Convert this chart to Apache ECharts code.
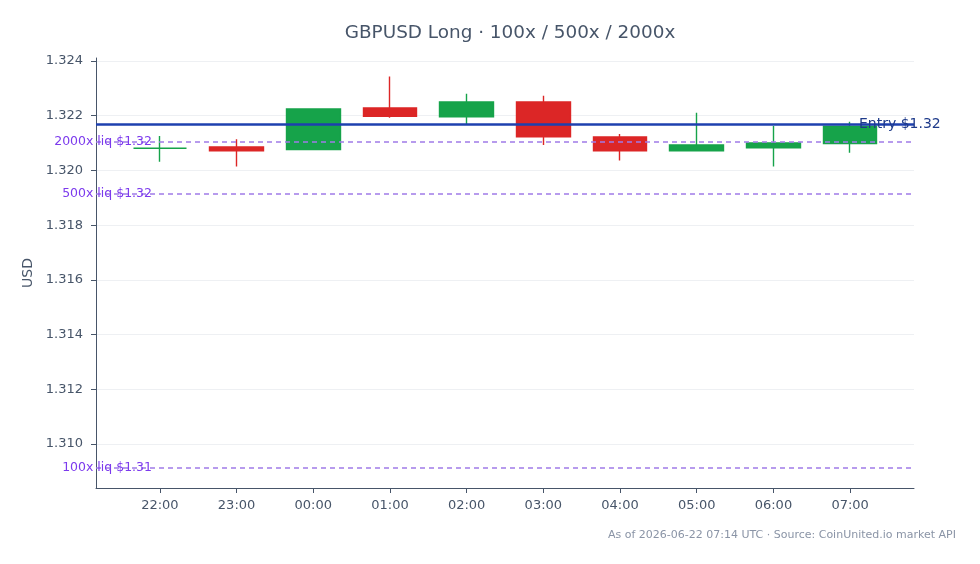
<!DOCTYPE html>
<html>
<head>
<meta charset="utf-8">
<title>GBPUSD Long</title>
<script src="https://cdn.jsdelivr.net/npm/echarts@6/dist/echarts.min.js"></script>
<style>
  html, body { margin: 0; padding: 0; background: #fff; }
  #chart { width: 980px; height: 564px; }
</style>
</head>
<body>
<div id="chart"></div>
<script>
// 小时K线 (open, close, low, high)
var hours = ['22:00', '23:00', '00:00', '01:00', '02:00', '03:00', '04:00', '05:00', '06:00', '07:00'];
var opens  = [1.32081, 1.32086, 1.32076, 1.32228, 1.32196, 1.32250, 1.32122, 1.32072, 1.32083, 1.32098];
var closes = [1.32081, 1.32072, 1.32225, 1.32198, 1.32250, 1.32123, 1.32072, 1.32093, 1.32100, 1.32162];
var lows   = [1.32032, 1.32014, 1.32076, 1.32193, 1.32170, 1.32093, 1.32036, 1.32072, 1.32014, 1.32065];
var highs  = [1.32126, 1.32114, 1.32225, 1.32343, 1.32280, 1.32273, 1.32133, 1.32211, 1.32162, 1.32178];

var entryPrice = 1.32167;
var liqNames  = ['2000x liq $1.32', '500x liq $1.32', '100x liq $1.31'];
var liqPrices = [1.32105, 1.31916, 1.30912];
var yTicks = [1.310, 1.312, 1.314, 1.316, 1.318, 1.320, 1.322, 1.324];

var chart = echarts.init(document.getElementById('chart'));

var candles = hours.map(function (h, i) {
  return [i, opens[i], closes[i], lows[i], highs[i]];
});
var tickIdx = hours.map(function (h, i) { return i; });

var liqLines = liqPrices.map(function (v, i) {
  return {
    yAxis: v,
    lineStyle: { color: '#a07be8', type: [5, 4], width: 1.5 },
    label: {
      show: true, position: 'start', formatter: liqNames[i],
      color: '#7c3aed', fontSize: 12.5, offset: [61, 0]
    }
  };
});

var option = {
  backgroundColor: '#fff',
  animation: false,
  textStyle: { fontFamily: 'DejaVu Sans' },
  title: {
    text: 'GBPUSD Long · 100x / 500x / 2000x',
    left: 505, top: 19, textAlign: 'center',
    textStyle: { fontSize: 18.4, fontWeight: 'normal', color: '#475569' }
  },
  graphic: [{
    type: 'text', right: 24, top: 530,
    style: {
      text: 'As of 2026-06-22 07:14 UTC · Source: CoinUnited.io market API',
      fill: '#8a94a6', fontSize: 11, fontFamily: 'DejaVu Sans'
    }
  }],
  grid: { left: 96, right: 66, top: 58, bottom: 76 },
  xAxis: {
    type: 'value',
    min: -0.833, max: 9.833,
    axisLine: { show: true, onZero: false, lineStyle: { color: '#475569', width: 1 } },
    axisTick: { show: true, customValues: tickIdx, length: 5, lineStyle: { color: '#475569' } },
    axisLabel: {
      customValues: tickIdx, color: '#475569', fontSize: 13, margin: 11,
      formatter: function (v) { return hours[Math.round(v)]; }
    },
    splitLine: { show: false }
  },
  yAxis: {
    type: 'value',
    min: 1.30839, max: 1.32411,
    name: 'USD', nameLocation: 'middle', nameGap: 56,
    nameTextStyle: { color: '#475569', fontSize: 14 },
    axisLine: { show: true, onZero: false, lineStyle: { color: '#475569', width: 1 } },
    axisTick: { show: true, customValues: yTicks, length: 5, lineStyle: { color: '#475569' } },
    axisLabel: {
      customValues: yTicks, color: '#475569', fontSize: 13, margin: 13,
      formatter: function (v) { return v.toFixed(3); }
    },
    splitLine: { show: true, customValues: yTicks, lineStyle: { color: '#eef0f3', width: 1 } }
  },
  series: [{
    // 强平线，置于K线之下
    type: 'line',
    data: [],
    z: 1,
    markLine: {
      symbol: 'none', silent: true, animation: false, precision: 5,
      data: liqLines
    }
  }, {
    type: 'candlestick',
    data: candles,
    barWidth: 54,
    z: 2,
    itemStyle: {
      color: '#16a34a', color0: '#dc2626',
      borderColor: '#16a34a', borderColor0: '#dc2626',
      borderColorDoji: '#16a34a',
      borderWidth: 1.4
    }
  }, {
    // 开仓价，置于K线之上
    type: 'line',
    data: [],
    z: 3,
    markLine: {
      symbol: 'none', silent: true, animation: false, precision: 5,
      data: [{
        yAxis: entryPrice,
        lineStyle: { color: '#1e40af', type: 'solid', width: 2.5 },
        label: {
          show: true, position: 'end', formatter: 'Entry $1.32',
          color: '#1e3a8a', fontSize: 14, offset: [-60, 0]
        }
      }]
    }
  }]
};

chart.setOption(option);
</script>
</body>
</html>
